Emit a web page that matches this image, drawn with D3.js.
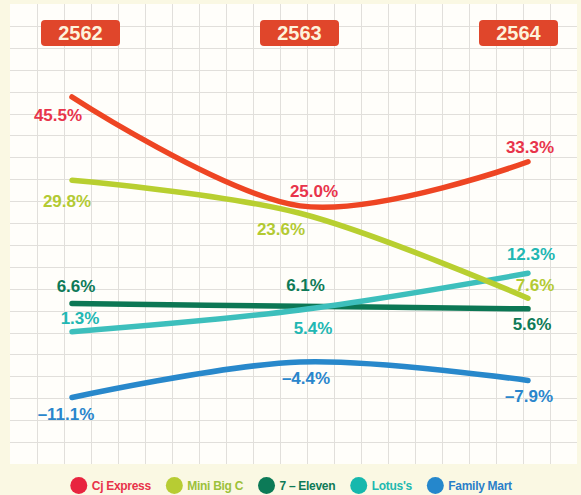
<!DOCTYPE html>
<html>
<head>
<meta charset="utf-8">
<script src="https://cdn.jsdelivr.net/npm/d3@7"></script>
<style>
  html, body { margin: 0; padding: 0; background: #faf8e3; }
  svg { display: block; }
</style>
</head>
<body>
<div id="chart"></div>
<script>
// Data
const years = ["2562", "2563", "2564"];
const seriesNames = ["Cj Express", "Mini Big C", "7 – Eleven", "Lotus's", "Family Mart"];
const cjExpress = [45.5, 25.0, 33.3];
const miniBigC = [29.8, 23.6, 7.6];
const sevenEleven = [6.6, 6.1, 5.6];
const lotuss = [1.3, 5.4, 12.3];
const familyMart = [-11.1, -4.4, -7.9];

const width = 581;
const height = 495;

// Colours for each series (line, label text, legend dot, legend text)
const lineColor = d3.scaleOrdinal().domain(seriesNames)
    .range(["#ee4523", "#b8cf30", "#0c7754", "#3dbfbc", "#2888cb"]);
const labelColor = d3.scaleOrdinal().domain(seriesNames)
    .range(["#e8344b", "#b3ca33", "#0e7a57", "#22b7b3", "#2a86cc"]);
const dotColor = d3.scaleOrdinal().domain(seriesNames)
    .range(["#e8243f", "#b7cc33", "#0c7a57", "#16b8ad", "#2587cc"]);
const legendTextColor = d3.scaleOrdinal().domain(seriesNames)
    .range(["#e8334a", "#9cc13a", "#0e7a57", "#20b9b0", "#2a7fc9"]);

const series = [
    { name: seriesNames[0], values: cjExpress },
    { name: seriesNames[1], values: miniBigC },
    { name: seriesNames[2], values: sevenEleven },
    { name: seriesNames[3], values: lotuss },
    { name: seriesNames[4], values: familyMart }
];

// label offsets from the point (layout only)
const labelOffsets = {
    "Cj Express": [[-14, 18], [14, -15], [2, -15]],
    "Mini Big C": [[-5, 21], [-19, 16], [7, -13]],
    "7 – Eleven": [[4, -18], [5.5, -21], [4, 15]],
    "Lotus's": [[8, -14], [13, 18], [3, -19]],
    "Family Mart": [[-6, 16.5], [6, 15.5], [1, 15.5]]
};

const panel = { left: 10, top: 4, right: 577, bottom: 464 };

const svg = d3.select("#chart").append("svg")
    .attr("width", width)
    .attr("height", height)
    .attr("viewBox", [0, 0, width, height]);

svg.append("rect")
    .attr("width", width).attr("height", height)
    .attr("fill", "#faf8e3");

// Panel + grid
svg.append("rect")
    .attr("x", panel.left).attr("y", panel.top)
    .attr("width", panel.right - panel.left)
    .attr("height", panel.bottom - panel.top)
    .attr("fill", "#fffefa");

const gridX = d3.scaleLinear().domain([0, 21]).range([panel.left, panel.right]);
const gridY = d3.scaleLinear().domain([0, 21]).range([panel.top, panel.bottom]);

const grid = svg.append("g").attr("stroke", "#e1dfdb").attr("stroke-width", 1);
grid.selectAll("line.v")
    .data(d3.range(1, 21))
    .join("line")
    .attr("class", "v")
    .attr("x1", d => Math.round(gridX(d)) + 0.5)
    .attr("x2", d => Math.round(gridX(d)) + 0.5)
    .attr("y1", panel.top)
    .attr("y2", panel.bottom);
grid.selectAll("line.h")
    .data(d3.range(1, 21))
    .join("line")
    .attr("class", "h")
    .attr("y1", d => Math.round(gridY(d)) + 0.5)
    .attr("y2", d => Math.round(gridY(d)) + 0.5)
    .attr("x1", panel.left)
    .attr("x2", panel.right);

// Scales
const x = d3.scalePoint().domain(years).range([72, 528]);
const badgeX = d3.scalePoint().domain(years).range([80.5, 518.5]);
const y = d3.scaleLinear().domain([-20, 50]).range([444.8, 73.1]);

// Year badges
const badgeW = 79, badgeH = 26;
const badges = svg.append("g")
    .selectAll("g")
    .data(years)
    .join("g")
    .attr("transform", d => `translate(${badgeX(d)},${33})`);
badges.append("rect")
    .attr("x", -badgeW / 2).attr("y", -badgeH / 2)
    .attr("width", badgeW).attr("height", badgeH)
    .attr("rx", 4)
    .attr("fill", "#e0462b");
badges.append("text")
    .attr("text-anchor", "middle")
    .attr("dy", "0.36em")
    .attr("fill", "#fdf3dc")
    .style("font-family", "'Liberation Sans', Arial, sans-serif")
    .style("font-weight", "bold")
    .style("font-size", "20px")
    .text(d => d);

// Lines
const line = d3.line()
    .x((d, i) => x(years[i]))
    .y(d => y(d))
    .curve(d3.curveCardinal.tension(0));

const drawOrder = ["7 – Eleven", "Lotus's", "Mini Big C", "Cj Express", "Family Mart"];
svg.append("g")
    .selectAll("path")
    .data(drawOrder.map(n => series.find(s => s.name === n)))
    .join("path")
    .attr("d", d => line(d.values))
    .attr("fill", "none")
    .attr("stroke", d => lineColor(d.name))
    .attr("stroke-width", 5.5)
    .attr("stroke-linecap", "round")
    .attr("stroke-linejoin", "round");

// Value labels
const fmt = v => (v < 0 ? "\u2013" + Math.abs(v).toFixed(1) : v.toFixed(1)) + "%";
svg.append("g")
    .selectAll("text")
    .data(series.flatMap(s => s.values.map((v, i) => ({ name: s.name, v, i }))))
    .join("text")
    .attr("x", d => x(years[d.i]) + labelOffsets[d.name][d.i][0])
    .attr("y", d => y(d.v) + labelOffsets[d.name][d.i][1])
    .attr("dy", "0.36em")
    .attr("text-anchor", "middle")
    .attr("fill", d => labelColor(d.name))
    .style("font-family", "'Liberation Sans', Arial, sans-serif")
    .style("font-weight", "bold")
    .style("font-size", "17px")
    .text(d => fmt(d.v));

// Legend
const legend = svg.append("g");
const legendY = 485.5;
const items = legend.selectAll("g")
    .data(seriesNames)
    .join("g");
items.append("circle")
    .attr("r", 8.5)
    .attr("cy", legendY)
    .attr("fill", d => dotColor(d));
items.append("text")
    .attr("y", legendY)
    .attr("dy", "0.36em")
    .attr("fill", d => legendTextColor(d))
    .style("font-family", "'Liberation Sans', Arial, sans-serif")
    .style("font-weight", "bold")
    .style("font-size", "12px")
    .style("letter-spacing", "-0.3px")
    .text(d => d);

// flow the legend items and centre them
let cursor = 0;
items.each(function () {
    const g = d3.select(this);
    const w = g.select("text").node().getComputedTextLength();
    g.select("circle").attr("cx", cursor + 8.5);
    g.select("text").attr("x", cursor + 21.5);
    cursor += 21.5 + w + 15;
});
const total = cursor - 15;
legend.attr("transform", `translate(${291 - total / 2},0)`);
</script>
</body>
</html>
